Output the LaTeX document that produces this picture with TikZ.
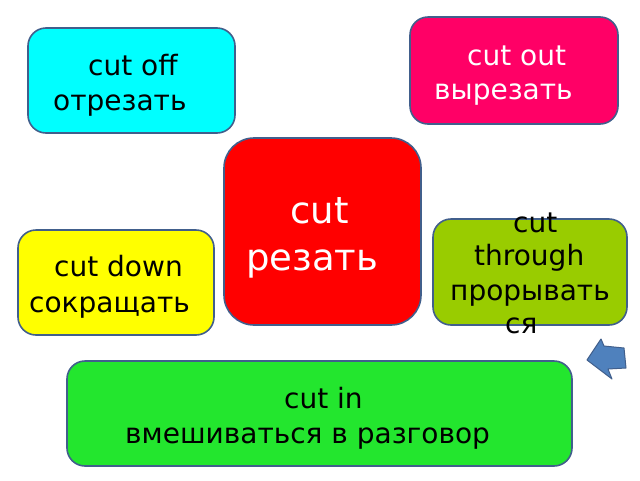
\documentclass[tikz,border=0pt]{standalone}
\usepackage{fontspec}
\setmainfont{DejaVu Sans}
\definecolor{bord}{RGB}{65,95,140}
\definecolor{ccyan}{RGB}{0,255,255}
\definecolor{cyell}{RGB}{255,255,0}
\definecolor{cred}{RGB}{255,0,0}
\definecolor{cpink}{RGB}{255,0,102}
\definecolor{cgreeny}{RGB}{153,204,0}
\definecolor{cgreen}{RGB}{35,230,46}
\definecolor{arrfill}{RGB}{79,129,189}
\begin{document}
\begin{tikzpicture}[x=1pt,y=-1pt,
  boxstyle/.style={draw=bord,line width=1.6pt,rounded corners=#1},
  txt/.style={anchor=base west,inner sep=0pt,font=\fontsize{28}{34}\selectfont},
  bigtxt/.style={anchor=base west,inner sep=0pt,font=\fontsize{37}{44}\selectfont,text=white}]
\useasboundingbox[fill=white] (0,0) rectangle (640,480);
% boxes
\path[boxstyle=18,fill=ccyan] (28,28) rectangle (235,133);
\node[inner sep=0pt] (boff) at (131.5,80.5) {};
\path[boxstyle=18,fill=cpink] (410,17) rectangle (618,124);
\node[inner sep=0pt] (bout) at (514,70.5) {};
\path[boxstyle=30,fill=cred] (224,138) rectangle (421,325);
\node[inner sep=0pt] (bcenter) at (322.5,231.5) {};
\path[boxstyle=18,fill=cyell] (18,230) rectangle (214,335);
\node[inner sep=0pt] (bdown) at (116,282.5) {};
\path[boxstyle=18,fill=cgreeny] (433,219) rectangle (627,325);
\node[inner sep=0pt] (bthrough) at (530,272) {};
\path[boxstyle=18,fill=cgreen] (67,361) rectangle (572,466);
\node[inner sep=0pt] (bin) at (319.5,413.5) {};
% texts
\node[txt] (t1) at (88,75) {cut off};
\node[txt] (t2) at (53,110) {отрезать};
\node[txt,text=white] (t3) at (467,65) {cut out};
\node[txt,text=white] (t4) at (434,99) {вырезать};
\node[bigtxt] (t5) at (290,223) {cut};
\node[bigtxt] (t6) at (246,270) {резать};
\node[txt] (t7) at (54,276) {cut down};
\node[txt] (t8) at (29,312) {сокращать};
\node[txt] (t9) at (513,232) {cut};
\node[txt] (t10) at (474,265) {through};
\node[txt] (t11) at (450,300) {прорывать};
\node[txt] (t12) at (505,333) {ся};
\node[txt] (t13) at (284,408) {cut in};
\node[txt] (t14) at (125,443) {вмешиваться в разговор};
% arrow
\draw[fill=arrfill,draw=bord,line width=1pt,line join=round]
  (587,360) -- (601,339) -- (604,346) -- (624,348) -- (626,368) -- (608,369) -- (612,379) -- cycle;
\end{tikzpicture}
\end{document}
